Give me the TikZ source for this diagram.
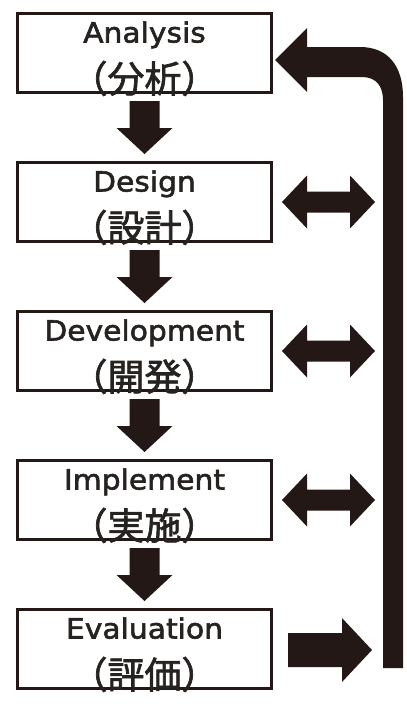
\documentclass[tikz,border=0pt]{standalone}
\usepackage{fontspec}
\usetikzlibrary{calc}
\newfontfamily\latfont[FakeStretch=1.07,FakeBold=2]{DejaVu Sans}
\newfontfamily\cjkfont[FakeBold=1.8]{Noto Sans CJK JP}
\definecolor{ink}{RGB}{35,24,21}
\definecolor{txt}{RGB}{38,34,32}
\begin{document}
\begin{tikzpicture}[x=1pt,y=-1pt,
  box/.style={draw=ink, line width=3pt, minimum width=254pt, minimum height=79pt, inner sep=0pt, fill=white},
  lat/.style={anchor=base, inner sep=0pt, text=txt, font=\latfont\fontsize{27.8}{30}\selectfont},
  cjk/.style={anchor=base, inner sep=0pt, text=txt, font=\cjkfont\fontsize{37}{40}\selectfont},
  downarrow/.pic={\fill[ink] (-15,-26.5) -- (15,-26.5) -- (15,0.5) -- (28,0.5) -- (0,26.5) -- (-28,0.5) -- (-15,0.5) -- cycle;},
  dblarrow/.pic={\fill[ink] (-46.5,0) -- (-21.5,-26.5) -- (-21.5,-10.5) -- (21.5,-10.5) -- (21.5,-26.5) -- (46.5,0) -- (21.5,26.5) -- (21.5,10.5) -- (-21.5,10.5) -- (-21.5,26.5) -- cycle;},
  rarrow/.pic={\fill[ink] (-42,-17) -- (12,-17) -- (12,-32) -- (42,0) -- (12,32) -- (12,17) -- (-42,17) -- cycle;}
]
\useasboundingbox[fill=white] (0,0) rectangle (407,715);

\node[box] (b1) at (144.5,53) {};
\node[box] (b2) at (144.5,202) {};
\node[box] (b3) at (144.5,351) {};
\node[box] (b4) at (144.5,500) {};
\node[box] (b5) at (144.5,649) {};

\foreach \b/\e/\j in {b1/Analysis/（分析）, b2/Design/（設計）, b3/Development/（開発）, b4/Implement/（実施）, b5/Evaluation/（評価）}{
  \node[lat] (\b e) at ($(\b.center)+(0,-10.5)$) {\e};
  \node[cjk] (\b j) at ($(\b.center)+(0,39.5)$) {\j};
}

\pic at ($(b1.south)!0.5!(b2.north)$) {downarrow};
\pic at ($(b2.south)!0.5!(b3.north)$) {downarrow};
\pic at ($(b3.south)!0.5!(b4.north)$) {downarrow};
\pic at ($(b4.south)!0.5!(b5.north)$) {downarrow};

\pic at ($(b2.center)+(184,0)$) {dblarrow};
\pic at ($(b3.center)+(184,0)$) {dblarrow};
\pic at ($(b4.center)+(184,0)$) {dblarrow};
\pic at ($(b5.center)+(185.5,1)$) {rarrow};

% feedback arrow
\fill[ink] (305,47) -- (360,47) .. controls (388,47) and (403,66) .. (403,97) -- (403,668) -- (383,668) -- (383,100) .. controls (383,86) and (376,77) .. (362,77) -- (305,77) -- cycle;
\fill[ink] (307,28) -- (275,60) -- (307,92) -- cycle;
\end{tikzpicture}
\end{document}
